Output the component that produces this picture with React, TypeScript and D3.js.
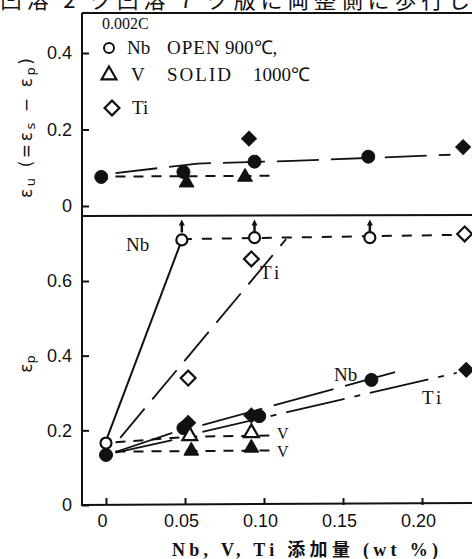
import React, { useRef, useEffect } from 'react';
import * as d3 from 'd3';

const W = 472;
const H = 559;

// x: Nb, V, Ti addition (wt %)
const xTicks = [0, 0.05, 0.1, 0.15, 0.2];
const xTickLabels = ['0', '0.05', '0.10', '0.15', '0.20'];
const yTopTicks = [0, 0.2, 0.4];
const yTopLabels = ['0', '0.2', '0.4'];
const yBotTicks = [0, 0.2, 0.4, 0.6];
const yBotLabels = ['0', '0.2', '0.4', '0.6'];

// top panel: eps_u
const uNbSolid = [[-0.003, 0.076], [0.049, 0.089], [0.094, 0.116], [0.166, 0.129]];
const uVSolid = [[0.051, 0.061], [0.088, 0.076]];
const uTiSolid = [[0.0905, 0.176], [0.226, 0.154]];
const uNbFit = [[0.006, 0.086], [0.058, 0.111], [0.118, 0.118], [0.218, 0.134]];
const uVFit = [[0.006, 0.077], [0.104, 0.079]];

// bottom panel: eps_p
const pNbOpen = [[0, 0.166], [0.048, 0.71], [0.094, 0.716], [0.167, 0.716]];
const pNbSolid = [[0, 0.134], [0.049, 0.206], [0.097, 0.238], [0.168, 0.335]];
const pVOpen = [[0.053, 0.185], [0.092, 0.193]];
const pVSolid = [[0.054, 0.145], [0.092, 0.153]];
const pTiOpen = [[0.052, 0.34], [0.092, 0.659], [0.227, 0.726]];
const pTiSolid = [[0.052, 0.22], [0.092, 0.24], [0.228, 0.362]];
const arrowAt = [0.048, 0.094, 0.167];

const pNbOpenFit = [[0, 0.172], [0.048, 0.71]];
const pNbOpenFlat = [[0.048, 0.712], [0.227, 0.724]];
const pTiOpenFit = [[0.009, 0.18], [0.114, 0.712]];
const pNbSolidFitA = [[0.006, 0.142], [0.042, 0.193]];
const pNbSolidFitB = [[0.061, 0.214], [0.183, 0.356]];
const pTiSolidFitA = [[0.006, 0.14], [0.042, 0.174]];
const pTiSolidFitB = [[0.061, 0.196], [0.222, 0.354]];
const pVOpenFit = [[0.006, 0.168], [0.053, 0.183], [0.104, 0.186]];
const pVSolidFit = [[0.006, 0.143], [0.104, 0.146]];

const INK = '#111';

const App = () => {
  const svgRef = useRef(null);

  useEffect(() => {
    const svg = d3.select(svgRef.current);
    svg.selectAll('*').remove();

    const x = d3.scaleLinear().domain([0, 0.2]).range([106, 422]);
    const yTop = d3.scaleLinear().domain([0, 0.4]).range([206, 53]);
    const yBot = d3.scaleLinear().domain([0, 0.6]).range([505, 281]);
    const left = 82, right = 472;

    // cut-off caption line at the very top
    svg.append('text')
      .attr('x', 0).attr('y', 8)
      .attr('textLength', 470).attr('lengthAdjust', 'spacing')
      .style('font-family', '"Noto Sans CJK JP"').style('font-size', '22px')
      .attr('fill', INK)
      .text('凹溶 2 ク凹溶 7 ク版に両整側に歩行し');

    // frame
    const frame = svg.append('g').attr('stroke', INK).attr('stroke-width', 2);
    frame.append('line').attr('x1', left).attr('x2', right).attr('y1', 13).attr('y2', 13);
    frame.append('line').attr('x1', left).attr('x2', right).attr('y1', 216).attr('y2', 215);
    frame.append('line').attr('x1', left).attr('x2', left).attr('y1', 13).attr('y2', 506);
    frame.append('line').attr('x1', left - 1).attr('x2', right).attr('y1', 505).attr('y2', 503);

    const styleAxis = g => {
      g.select('.domain').remove();
      g.selectAll('line').attr('stroke', INK).attr('stroke-width', 2);
      g.selectAll('text')
        .style('font-family', '"Liberation Sans", Arial, sans-serif')
        .style('font-size', '18px')
        .attr('fill', INK);
    };

    svg.append('g').attr('transform', `translate(${left},0)`)
      .call(d3.axisLeft(yTop).tickValues(yTopTicks).tickFormat((d, i) => yTopLabels[i]).tickSizeInner(-7).tickSizeOuter(0).tickPadding(10))
      .call(styleAxis);
    svg.append('g').attr('transform', `translate(${left},0)`)
      .call(d3.axisLeft(yBot).tickValues(yBotTicks).tickFormat((d, i) => yBotLabels[i]).tickSizeInner(-7).tickSizeOuter(0).tickPadding(10))
      .call(styleAxis);
    const xa = svg.append('g').attr('transform', 'translate(0,505)')
      .call(d3.axisBottom(x).tickValues(xTicks).tickFormat((d, i) => xTickLabels[i]).tickSizeInner(-7).tickSizeOuter(0).tickPadding(9))
      .call(styleAxis);
    xa.selectAll('text').attr('dx', -4);

    // axis titles
    svg.append('text')
      .attr('x', 305).attr('y', 556).attr('text-anchor', 'middle')
      .attr('textLength', 266).attr('lengthAdjust', 'spacing')
      .style('font-family', '"Liberation Serif", "Noto Sans CJK JP", serif')
      .style('font-size', '18px').style('font-weight', 'bold').attr('fill', INK)
      .text('Nb, V, Ti 添加量 (wt %)');

    const yl = svg.append('text')
      .attr('transform', 'translate(32,128) rotate(-90)')
      .attr('text-anchor', 'middle')
      .attr('textLength', 140).attr('lengthAdjust', 'spacing')
      .style('font-family', '"DejaVu Sans", sans-serif').style('font-size', '17px').attr('fill', INK);
    yl.append('tspan').text('ε');
    yl.append('tspan').attr('baseline-shift', '-20%').style('font-size', '13px').text('u');
    yl.append('tspan').text(' (=ε');
    yl.append('tspan').attr('baseline-shift', '-20%').style('font-size', '13px').text('s');
    yl.append('tspan').text(' − ε');
    yl.append('tspan').attr('baseline-shift', '-20%').style('font-size', '13px').text('p');
    yl.append('tspan').text(')');

    const yl2 = svg.append('text')
      .attr('transform', 'translate(32,364) rotate(-90)')
      .attr('text-anchor', 'middle')
      .style('font-family', '"DejaVu Sans", sans-serif').style('font-size', '17px').attr('fill', INK);
    yl2.append('tspan').text('ε');
    yl2.append('tspan').attr('baseline-shift', '-20%').style('font-size', '13px').text('p');

    // fitted lines
    const lineTop = d3.line().x(d => x(d[0])).y(d => yTop(d[1]));
    const lineBot = d3.line().x(d => x(d[0])).y(d => yBot(d[1]));
    const drawLine = (pts, gen, dash, w = 1.8) => {
      svg.append('path').attr('d', gen(pts)).attr('fill', 'none')
        .attr('stroke', INK).attr('stroke-width', w)
        .attr('stroke-dasharray', dash);
    };
    drawLine(uNbFit, lineTop, '42 12');
    drawLine(uVFit, lineTop, '10 8', 2);
    drawLine(pNbOpenFit, lineBot, null, 2);
    drawLine(pNbOpenFlat, lineBot, '10 10', 2);
    drawLine(pTiOpenFit, lineBot, '38 12');
    drawLine(pNbSolidFitA, lineBot, null);
    drawLine(pNbSolidFitB, lineBot, '62 12');
    drawLine(pTiSolidFitA, lineBot, null);
    drawLine(pTiSolidFitB, lineBot, '60 10 6 10');
    drawLine(pVOpenFit, lineBot, '10 8', 2);
    drawLine(pVSolidFit, lineBot, '10 8', 2);

    // markers
    const tri = d3.symbol().type(d3.symbolTriangle).size(95);
    const dia = d3.symbol().type(d3.symbolSquare).size(110);
    const drawCircles = (pts, y, open) => {
      svg.append('g').selectAll('circle').data(pts).enter().append('circle')
        .attr('cx', d => x(d[0])).attr('cy', d => y(d[1]))
        .attr('r', open ? 5.5 : 6.5)
        .attr('fill', open ? '#fff' : INK).attr('stroke', INK).attr('stroke-width', open ? 2.2 : 1);
    };
    const drawSym = (pts, y, gen, open, rot) => {
      svg.append('g').selectAll('path').data(pts).enter().append('path')
        .attr('d', gen())
        .attr('transform', d => `translate(${x(d[0])},${y(d[1])}) rotate(${rot})`)
        .attr('fill', open ? '#fff' : INK).attr('stroke', INK).attr('stroke-width', open ? 2.2 : 1);
    };

    drawCircles(uNbSolid, yTop, false);
    drawSym(uVSolid, yTop, tri, false, 0);
    drawSym(uTiSolid, yTop, dia, false, 45);

    drawCircles(pNbSolid, yBot, false);
    drawSym(pTiSolid, yBot, dia, false, 45);
    drawSym(pVSolid, yBot, tri, false, 0);
    drawSym(pVOpen, yBot, tri, true, 0);
    drawSym(pTiOpen, yBot, dia, true, 45);
    drawCircles(pNbOpen, yBot, true);

    // up arrows above unbroken Nb specimens
    const arrowG = svg.append('g');
    arrowAt.forEach(v => {
      const cx = x(v);
      const cy = yBot(0.714);
      arrowG.append('line').attr('x1', cx).attr('x2', cx).attr('y1', cy - 6).attr('y2', cy - 14)
        .attr('stroke', INK).attr('stroke-width', 2.5);
      arrowG.append('path')
        .attr('d', `M${cx - 3},${cy - 13} L${cx},${cy - 19} L${cx + 3},${cy - 13} Z`)
        .attr('fill', INK);
    });

    // in-plot labels
    const serif = '"Liberation Serif", "Times New Roman", serif';
    const label = (tx, ty, s, size = 19, ls = 0) => {
      svg.append('text').attr('x', tx).attr('y', ty)
        .style('font-family', serif).style('font-size', `${size}px`)
        .style('letter-spacing', `${ls}px`).attr('fill', INK).text(s);
    };
    label(126, 251, 'Nb');
    label(260, 279, 'Ti', 19, 3);
    label(334, 381, 'Nb');
    label(422, 404, 'Ti', 19, 3);
    label(277, 439, 'V', 16);
    label(277, 457, 'V', 16);

    // legend
    label(102, 29, '0.002C', 16);
    label(127, 54, 'Nb');
    label(167, 54, 'OPEN', 19, 1);
    label(225, 54, '900℃,', 19);
    label(131, 81, 'V');
    label(167, 81, 'SOLID', 19, 2);
    label(253, 81, '1000℃', 19);
    label(132, 114, 'Ti');
    svg.append('circle').attr('cx', 109).attr('cy', 48).attr('r', 5)
      .attr('fill', '#fff').attr('stroke', INK).attr('stroke-width', 2);
    svg.append('path').attr('d', tri()).attr('transform', 'translate(109,75)')
      .attr('fill', '#fff').attr('stroke', INK).attr('stroke-width', 2.2);
    svg.append('path').attr('d', dia()).attr('transform', 'translate(112,108) rotate(45)')
      .attr('fill', '#fff').attr('stroke', INK).attr('stroke-width', 2.2);
  }, []);

  return (
    <svg ref={svgRef} width={W} height={H}
      style={{ position: 'absolute', left: 0, top: 0, background: '#fff' }} />
  );
};

export default App;
